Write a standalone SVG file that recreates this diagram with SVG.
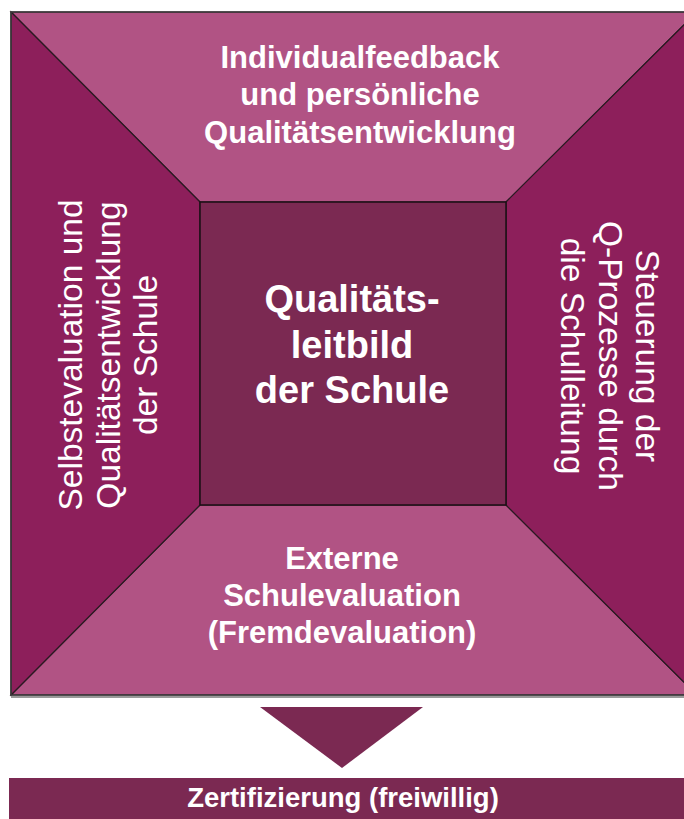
<svg xmlns="http://www.w3.org/2000/svg" width="684" height="819" viewBox="0 0 684 819">
  <style>
    .light { fill: #B15384; stroke: #2a1a22; stroke-width: 1.2; stroke-linejoin: miter; }
    .dark { fill: #8D1F5B; stroke: #2a1a22; stroke-width: 1.2; }
    .core { fill: #7B2952; stroke: #1a0f14; stroke-width: 1.5; }
    .deep { fill: #7B2952; }
    .tb { font-family: "Liberation Sans", Arial, sans-serif; font-weight: bold; fill: #ffffff; text-anchor: middle; }
    .tr { font-family: "Liberation Sans", Arial, sans-serif; font-weight: normal; fill: #ffffff; text-anchor: middle; }
  </style>
  <rect x="0" y="0" width="684" height="819" fill="#ffffff"/>
  <!-- shadow of the frame -->
  <line x1="11" y1="697" x2="684" y2="697" stroke="#9a9a9a" stroke-width="2"/>
  <g id="top">
    <polygon class="light" points="11,12 697,12 506,202 200,202"/>
    <text class="tb" font-size="31" x="360" y="68">Individualfeedback<tspan x="360" dy="37.3">und persönliche</tspan><tspan x="360" dy="37.3">Qualitätsentwicklung</tspan></text>
  </g>
  <g id="bottom">
    <polygon class="light" points="11,695 697,695 506,505 200,505"/>
    <text class="tb" font-size="31" x="342" y="569">Externe<tspan x="342" dy="37">Schulevaluation</tspan><tspan x="342" dy="37">(Fremdevaluation)</tspan></text>
  </g>
  <g id="left">
    <polygon class="dark" points="11,12 200,202 200,505 11,695"/>
    <text class="tr" font-size="33.5" transform="translate(82,355) rotate(-90)" x="0" y="0">Selbstevaluation und<tspan x="0" dy="37.5">Qualitätsentwicklung</tspan><tspan x="0" dy="37.5">der Schule</tspan></text>
  </g>
  <g id="right">
    <polygon class="dark" points="697,12 506,202 506,505 697,695"/>
    <text class="tr" font-size="33.5" transform="translate(636,356) rotate(90)" x="0" y="0">Steuerung der<tspan x="0" dy="37.5">Q-Prozesse durch</tspan><tspan x="0" dy="37.5">die Schulleitung</tspan></text>
  </g>
  <rect x="11" y="12" width="686" height="683" fill="none" stroke="#3a3a3a" stroke-width="1.5"/>
  <g id="center">
    <rect class="core" x="200" y="202" width="306" height="303"/>
    <text class="tb" font-size="38" x="352" y="312">Qualitäts-<tspan x="352" dy="45.5">leitbild</tspan><tspan x="352" dy="45.5">der Schule</tspan></text>
  </g>
  <g id="connectors">
    <polygon class="deep" points="260,707 423,707 342,768"/>
  </g>
  <g id="zertifizierung">
    <rect class="deep" x="9" y="778" width="675" height="41"/>
    <text class="tb" font-size="27.5" x="343" y="807">Zertifizierung (freiwillig)</text>
  </g>
</svg>
